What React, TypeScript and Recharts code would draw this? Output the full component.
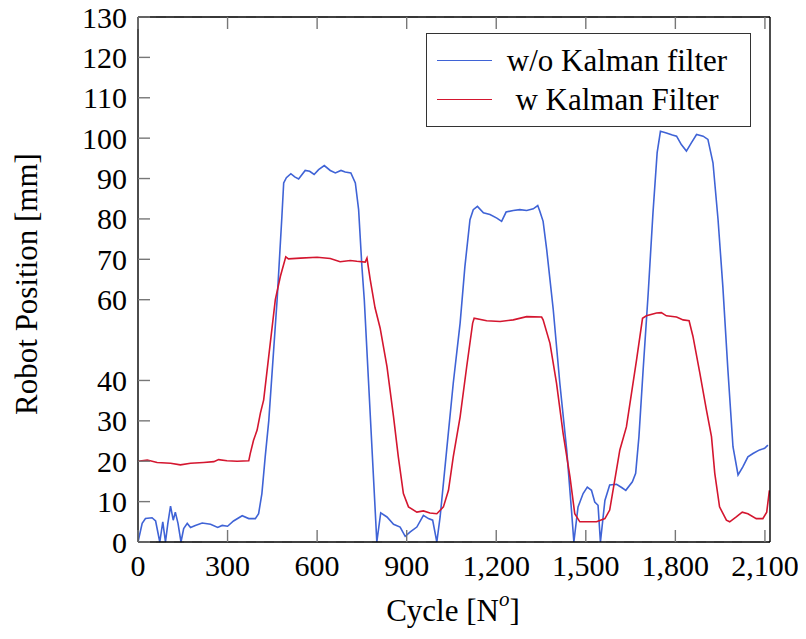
import React from 'react';
import { LineChart, Line, XAxis, YAxis, CartesianGrid, Legend } from 'recharts';

const FONT = 'Liberation Serif, DejaVu Serif, serif';

const cycleTicks = [0, 300, 600, 900, 1200, 1500, 1800, 2100];
const positionTicks = [0, 10, 20, 30, 40, 60, 70, 80, 90, 100, 110, 120, 130];

const rawCycles = [
  0, 14, 25, 47, 59, 73, 83, 92, 100, 109, 118, 125, 134, 144, 153, 165, 176, 192, 215, 243, 267, 282, 300,
  320, 349, 371, 393, 404, 415, 426, 438, 466, 482, 488, 497, 512, 525, 538, 560, 575, 590, 605, 624, 644,
  661, 680, 694, 713, 728, 739, 750, 758, 772, 800, 813, 834, 856, 878, 895, 912, 934, 956, 973, 987, 1001,
  1012, 1034, 1056, 1079, 1095, 1112, 1123, 1137, 1157, 1179, 1202, 1218, 1233, 1257, 1279, 1302, 1324,
  1339, 1346, 1357, 1369, 1391, 1413, 1436, 1452, 1460, 1474, 1491, 1505, 1519, 1530, 1541, 1549, 1564,
  1580, 1603, 1620, 1634, 1656, 1667, 1678, 1692, 1709, 1725, 1739, 1750, 1770, 1790, 1804, 1820, 1837,
  1854, 1871, 1893, 1909, 1926, 1943, 1959, 1976, 1993, 2010, 2026, 2043, 2060, 2082, 2099, 2110,
];
const rawPosition = [
  0, 4.6, 5.8, 6.0, 5.2, 0, 5.0, 0, 4.6, 8.9, 5.4, 7.4, 4.6, 0, 3.3, 4.6, 3.6, 4.1, 4.7, 4.4, 3.6, 4.1, 3.9,
  5.2, 6.5, 5.8, 5.8, 7.0, 12, 21, 30, 60, 80.6, 88.9, 90.2, 91.2, 90.4, 89.9, 92, 91.8, 91, 92.2, 93.2, 92,
  91.4, 92, 91.6, 91.4, 88.9, 82.3, 68.2, 60, 40, 0, 7.2, 6.2, 4.4, 3.7, 1.4, 2.5, 3.7, 6.6, 5.8, 5.4, 0,
  6.2, 22.8, 39.3, 54.2, 68.2, 79.8, 82.3, 83.1, 81.5, 81.1, 80.2, 79.4, 81.7, 82.1, 82.3, 82.1, 82.5,
  83.3, 81.9, 79.4, 72.4, 57.5, 39.3, 22.8, 7.9, 0, 8.7, 12, 13.6, 12.8, 9.9, 9.1, 0, 10.3,
  14.1, 14.3, 13.5, 12.8, 14.9, 17, 26.1, 42.6, 61.6, 81.5, 96.4, 101.7, 101.3, 100.8, 100.5, 98.4, 96.8,
  98.9, 100.9, 100.5, 99.7, 93.9, 79.8, 63.3, 42.6, 23.6, 16.6, 18.6, 21.1, 21.9, 22.8, 23.2, 24,
];

const kalmanCycles = [
  0, 31, 64, 109, 142, 176, 220, 254, 270, 298, 332, 371, 376, 387, 399, 410, 421, 460, 477, 495, 504, 544,
  600, 644, 677, 711, 733, 761, 767, 778, 794, 811, 834, 856, 872, 889, 906, 934, 956, 978, 1001, 1023,
  1040, 1056, 1079, 1101, 1121, 1126, 1168, 1213, 1257, 1302, 1352, 1357, 1380, 1402, 1424, 1447, 1463,
  1480, 1503, 1536, 1564, 1580, 1597, 1614, 1636, 1653, 1670, 1690, 1703, 1737, 1753, 1770, 1804, 1826,
  1846, 1859, 1882, 1904, 1921, 1932, 1948, 1971, 1982, 2004, 2024, 2043, 2071, 2093, 2106, 2115,
];
const kalmanPosition = [
  20, 20.3, 19.7, 19.5, 19.1, 19.5, 19.7, 19.9, 20.4, 20.1, 20.0, 20.1, 21.9, 25.2, 27.7, 31.9, 35.2, 60,
  65.8, 70.6, 70.1, 70.3, 70.5, 70.2, 69.4, 69.7, 69.5, 69.3, 70.3, 64.9, 58, 53, 43.4, 31, 21.1, 12, 8.7,
  7.4, 7.7, 7.2, 7.0, 8.7, 12.8, 21.1, 31, 43.4, 54.2, 55.4, 54.8, 54.6, 55.0, 55.8, 55.7, 55.0, 49.2, 39.3,
  26.9, 16.1, 7.0, 5.0, 5.0, 5.0, 5.8, 7.9, 15.3, 22.8, 28.5, 36.8, 45.1, 55.4, 56, 56.7, 56.8, 56, 55.7,
  55.0, 54.8, 50.9, 41.8, 32.7, 26.1, 17, 8.7, 5.4, 5.0, 6.2, 7.4, 7.0, 5.8, 5.8, 7.4, 12.8,
];

const BLUE = '#3f63d6';
const RED = '#d4162f';
const TICK = '#777';

const rawData = rawCycles.map((c, i) => ({ cycle: c, pos: rawPosition[i] }));
const kalmanData = kalmanCycles.map((c, i) => ({ cycle: c, pos: kalmanPosition[i] }));

const LeftTick = ({ x, y, payload }: any) => (
  <g>
    <line x1={x} x2={x + 12} y1={y} y2={y} stroke={TICK} strokeWidth={1.4} />
    <text x={x - 11} y={y} textAnchor="end" dominantBaseline="central" fontSize={30} fontFamily={FONT} fill="#000">
      {payload.value}
    </text>
  </g>
);

const BottomTick = ({ x, y, payload }: any) => (
  <g>
    <line x1={x} x2={x} y1={y} y2={y - 12} stroke={TICK} strokeWidth={1.4} />
    <text x={x} y={y + 23} textAnchor="middle" dominantBaseline="central" fontSize={30} fontFamily={FONT} fill="#000">
      {Number(payload.value).toLocaleString('en-US')}
    </text>
  </g>
);

const TopTick = ({ x, y }: any) => (
  <line x1={x} x2={x} y1={y} y2={y + 12} stroke={TICK} strokeWidth={1.4} />
);

const RightTick = ({ x, y }: any) => (
  <line x1={x} x2={x - 12} y1={y} y2={y} stroke={TICK} strokeWidth={1.4} />
);

const YTitle = () => (
  <text x={26} y={284} transform="rotate(-90 26 284)" textAnchor="middle" dominantBaseline="central" fontSize={31} fontFamily={FONT} fill="#000">
    Robot Position [mm]
  </text>
);

const XTitle = () => (
  <text x={453} y={610} textAnchor="middle" dominantBaseline="central" fontSize={31} fontFamily={FONT} fill="#000">
    Cycle [N<tspan fontStyle="italic" fontSize={21} dy={-11}>o</tspan><tspan dy={11}>]</tspan>
  </text>
);

const LegendBox = () => {
  const rows = [
    { label: 'w/o Kalman filter', color: BLUE, top: 27 },
    { label: 'w Kalman Filter', color: RED, top: 66 },
  ];
  return (
    <div style={{ position: 'relative', width: 325, height: 94, border: '1.5px solid #333', background: '#fff', boxSizing: 'border-box', fontFamily: FONT, fontSize: 31 }}>
      {rows.map((r) => (
        <React.Fragment key={r.label}>
          <div style={{ position: 'absolute', left: 10, top: r.top - 1, width: 55, height: 0, borderTop: `1.5px solid ${r.color}` }} />
          <div style={{ position: 'absolute', left: 70, width: 240, top: r.top - 18, lineHeight: '36px', textAlign: 'center', color: '#000', whiteSpace: 'nowrap', fontFamily: FONT }}>
            {r.label}
          </div>
        </React.Fragment>
      ))}
    </div>
  );
};

export default function App() {
  return (
    <div style={{ width: 806, height: 630, margin: '-8px 0 0 -8px' }}>
      <LineChart width={806} height={630} margin={{ top: 16, right: 35, left: 0, bottom: 0 }}>
        <CartesianGrid vertical={false} stroke="#cfcfcf" strokeWidth={1.6} strokeDasharray="10 8" />
        <XAxis
          xAxisId="bottom"
          dataKey="cycle"
          type="number"
          domain={[0, 2117]}
          ticks={cycleTicks}
          allowDataOverflow
          height={88}
          tickSize={0}
          tickMargin={0}
          tickLine={false}
          axisLine={{ stroke: '#000', strokeWidth: 1.4 }}
          tick={<BottomTick />}
          label={<XTitle />}
        />
        <XAxis
          xAxisId="top"
          orientation="top"
          dataKey="cycle"
          type="number"
          domain={[0, 2117]}
          ticks={cycleTicks}
          allowDataOverflow
          height={1}
          tickSize={0}
          tickMargin={0}
          tickLine={false}
          axisLine={{ stroke: '#000', strokeWidth: 1.4 }}
          tick={<TopTick />}
        />
        <YAxis
          yAxisId="left"
          type="number"
          domain={[0, 130]}
          ticks={positionTicks}
          width={138}
          tickSize={0}
          tickMargin={0}
          tickLine={false}
          axisLine={{ stroke: '#000', strokeWidth: 1.4 }}
          tick={<LeftTick />}
          label={<YTitle />}
        />
        <YAxis
          yAxisId="right"
          orientation="right"
          type="number"
          domain={[0, 130]}
          ticks={positionTicks}
          width={1}
          tickSize={0}
          tickMargin={0}
          tickLine={false}
          axisLine={{ stroke: '#000', strokeWidth: 1.4 }}
          tick={<RightTick />}
        />
        <Legend
          layout="vertical"
          align="center"
          verticalAlign="middle"
          content={<LegendBox />}
          wrapperStyle={{ left: 426, top: 33, width: 325, height: 94 }}
        />
        <Line
          xAxisId="bottom"
          yAxisId="left"
          data={rawData}
          dataKey="pos"
          name="w/o Kalman filter"
          type="linear"
          stroke={BLUE}
          strokeWidth={1.6}
          dot={false}
          isAnimationActive={false}
        />
        <Line
          xAxisId="bottom"
          yAxisId="left"
          data={kalmanData}
          dataKey="pos"
          name="w Kalman Filter"
          type="linear"
          stroke={RED}
          strokeWidth={1.6}
          dot={false}
          isAnimationActive={false}
        />
      </LineChart>
    </div>
  );
}
